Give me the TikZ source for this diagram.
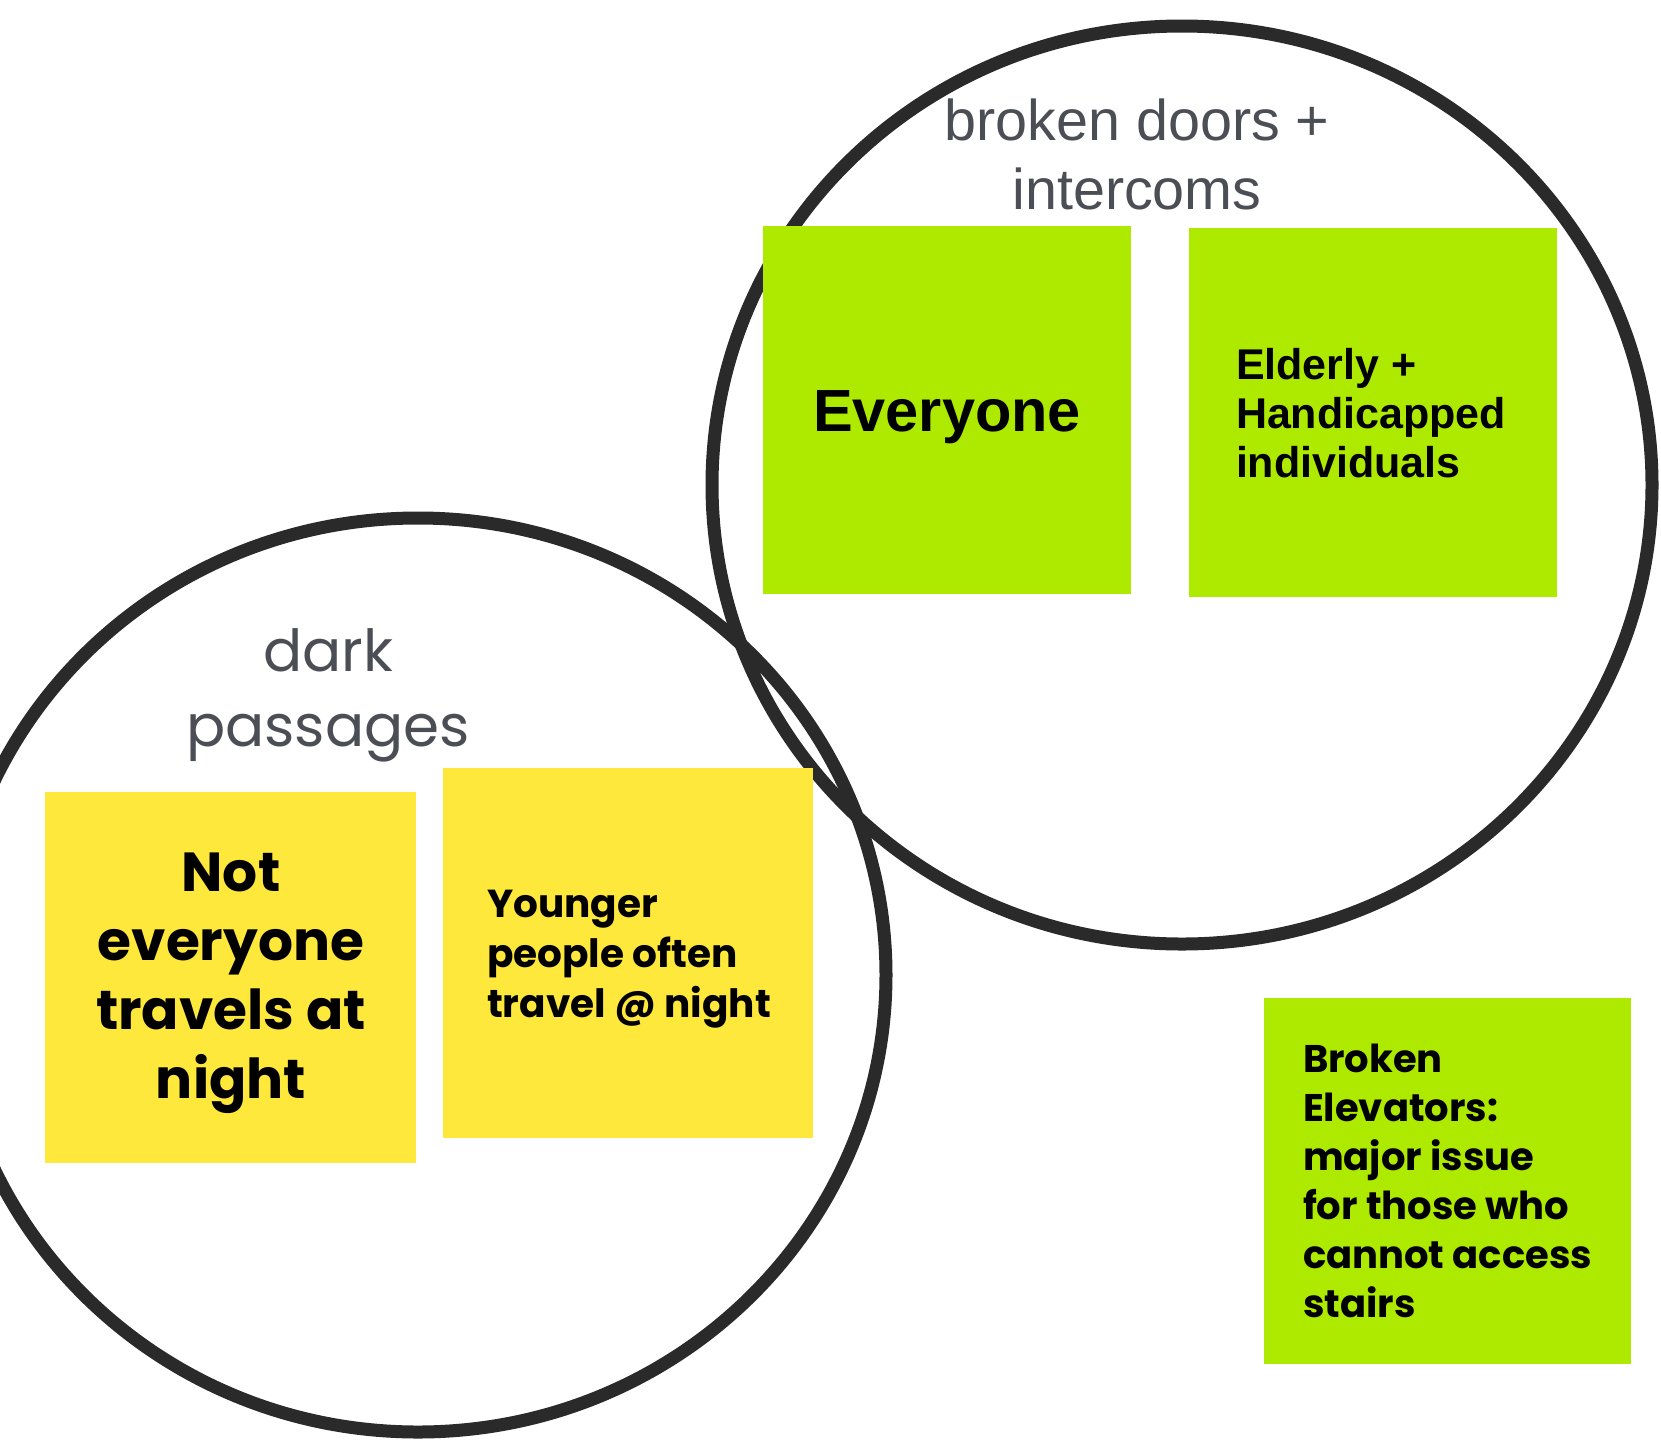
\documentclass[tikz,border=0pt]{standalone}
\usepackage{fontspec}
\usetikzlibrary{shapes.geometric}
\setmainfont{Liberation Sans}
\newfontfamily\popfont{Poppins}
\definecolor{notegreen}{HTML}{AEEA00}
\definecolor{noteyellow}{HTML}{FFE83C}
\definecolor{ringcol}{HTML}{2A2A2A}
\definecolor{labelgray}{HTML}{4B4F55}
\tikzset{
  ring/.style={draw=ringcol, line width=13pt},
  greennote/.style={fill=notegreen, draw=none},
  yellownote/.style={fill=noteyellow, draw=none},
  txt/.style={inner sep=0pt, outer sep=0pt, text=black},
  lbl/.style={inner sep=0pt, outer sep=0pt, text=labelgray},
}
\begin{document}
\begin{tikzpicture}[x=1pt, y=-1pt]
\useasboundingbox (0,0) rectangle (1661,1446);
\clip (0,0) rectangle (1661,1446);
% circles
\node[ring, ellipse, minimum width=940pt, minimum height=918pt, inner sep=0pt] (circB) at (1182,485) {};
\node[ring, ellipse, minimum width=936pt, minimum height=914pt, inner sep=0pt] (circA) at (418,975) {};
% notes
\path[greennote] (763,226) rectangle (1131,594);
\path[greennote] (1189,228) rectangle (1557,597);
\path[greennote] (1264,998) rectangle (1631,1364);
\path[yellownote] (45,792) rectangle (416,1163);
\path[yellownote] (443,768) rectangle (813,1138);
% labels
\node[lbl, anchor=north, align=center, font=\fontsize{57.5}{69}\selectfont] (lblB) at (1137,99) {broken doors +\\intercoms};
\node[lbl, anchor=north, align=center, font=\popfont\fontsize{58}{75}\selectfont] (lblA) at (328,629) {dark\\passages};
% note texts
\node[txt, anchor=base, font=\bfseries\fontsize{59.5}{66}\selectfont] (everyone) at (947,431) {Everyone};
\node[txt, anchor=north west, align=left, font=\bfseries\fontsize{43}{49}\selectfont] (elderly) at (1236,348) {Elderly +\\Handicapped\\individuals};
\node[txt, anchor=north west, align=left, font=\popfont\bfseries\fontsize{38.5}{49}\selectfont] (elev) at (1303,1044) {Broken\\Elevators:\\major issue\\for those who\\cannot access\\stairs};
\node[txt, anchor=north, align=center, font=\popfont\bfseries\fontsize{55}{69}\selectfont] (noteveryone) at (231,853) {Not\\everyone\\travels at\\night};
\node[txt, anchor=north west, align=left, font=\popfont\bfseries\fontsize{39}{50}\selectfont] (younger) at (487,890) {Younger\\people often\\travel @ night};
\end{tikzpicture}
\end{document}
